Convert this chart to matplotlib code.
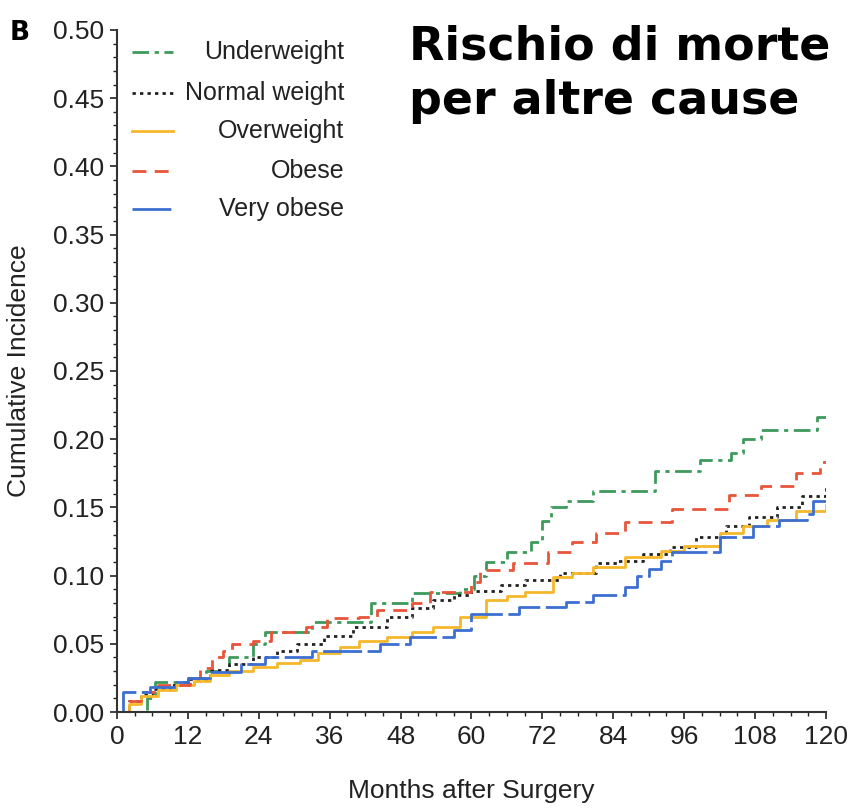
import matplotlib
matplotlib.use("Agg")
import matplotlib.pyplot as plt
from matplotlib.ticker import MultipleLocator

plt.rcParams['font.family'] = ['Liberation Sans', 'DejaVu Sans']

# step-function data (month of change, cumulative incidence after change)
uw_t = [0, 5, 6.5, 12, 15, 19, 23, 25, 33, 43, 50, 58, 60.5, 62.5, 66, 70, 72, 73.5, 76,
        80.5, 91, 98.6, 104, 106, 109, 118.5, 120]
uw_v = [0, 0.01, 0.022, 0.025, 0.03, 0.04, 0.05, 0.059, 0.066, 0.08, 0.087, 0.09, 0.10,
        0.11, 0.117, 0.125, 0.14, 0.15, 0.155, 0.162, 0.177, 0.185, 0.19, 0.20, 0.207,
        0.216, 0.216]

nw_t = [0, 2, 4, 6, 9, 12, 15.7, 19, 23, 27, 30.4, 35, 40, 45.7, 50, 53.5, 57, 60, 65, 69,
        75, 81, 84.6, 89, 93.6, 98, 103, 107, 111.7, 116, 120]
nw_v = [0, 0.008, 0.013, 0.017, 0.02, 0.024, 0.031, 0.035, 0.04, 0.045, 0.05, 0.056,
        0.062, 0.07, 0.076, 0.082, 0.086, 0.089, 0.093, 0.097, 0.102, 0.109, 0.111, 0.116,
        0.121, 0.128, 0.136, 0.143, 0.15, 0.158, 0.165]

ow_t = [0, 2, 4, 7, 10, 13, 15.7, 19, 23, 27, 31, 34, 37.7, 41, 45.7, 50, 53.5, 58, 62.5,
        66, 69, 73.8, 77, 80.5, 86, 92, 96, 102, 106, 110, 115, 120]
ow_v = [0, 0.006, 0.012, 0.016, 0.02, 0.023, 0.027, 0.03, 0.033, 0.036, 0.038, 0.043,
        0.048, 0.052, 0.055, 0.059, 0.062, 0.07, 0.082, 0.085, 0.088, 0.099, 0.102, 0.106,
        0.114, 0.118, 0.122, 0.131, 0.136, 0.141, 0.147, 0.152]

ob_t = [0, 2, 4, 7, 12.4, 14, 16, 18, 19.5, 23, 26, 32, 35.5, 41, 44, 50, 53, 60, 61.4,
        67, 73, 77, 81, 86, 94, 103.5, 109, 115, 119, 120]
ob_v = [0, 0.008, 0.015, 0.02, 0.025, 0.032, 0.04, 0.045, 0.05, 0.052, 0.059, 0.062,
        0.069, 0.07, 0.075, 0.08, 0.088, 0.095, 0.104, 0.109, 0.117, 0.125, 0.131, 0.139,
        0.149, 0.159, 0.166, 0.175, 0.183, 0.183]

vo_t = [0, 1, 5.6, 10, 12, 15.7, 21, 25, 33, 44.5, 49.6, 57, 60, 68, 76, 80.5, 86, 88, 90,
        92, 94, 102, 107.6, 112, 116.7, 117.8, 120]
vo_v = [0, 0.015, 0.018, 0.022, 0.025, 0.029, 0.035, 0.04, 0.045, 0.05, 0.055, 0.06,
        0.072, 0.077, 0.081, 0.086, 0.092, 0.1, 0.105, 0.111, 0.117, 0.128, 0.136, 0.141,
        0.145, 0.155, 0.155]

series = [
    ("Underweight", uw_t, uw_v, "#3d9a5c", (0, (6, 2, 1.5, 2))),
    ("Normal weight", nw_t, nw_v, "#222222", (0, (1.2, 1.5))),
    ("Overweight", ow_t, ow_v, "#f5b82a", "-"),
    ("Obese", ob_t, ob_v, "#e8553a", (0, (5, 3))),
    ("Very obese", vo_t, vo_v, "#3d6fd0", (0, (14, 2))),
]

fig = plt.figure(figsize=(8.52, 8.08), dpi=100)
ax = fig.add_axes([0.1373, 0.1188, 0.9695 - 0.1373, 0.9629 - 0.1188])

for name, t, v, c, ls in series:
    ax.step(t, v, where="post", color=c, linestyle=ls, lw=2.0)

ax.set_xlim(0, 120)
ax.set_ylim(0, 0.5)
ax.xaxis.set_major_locator(MultipleLocator(12))
ax.xaxis.set_minor_locator(MultipleLocator(3))
ax.yaxis.set_major_locator(MultipleLocator(0.05))
ax.yaxis.set_minor_locator(MultipleLocator(0.01))
ax.yaxis.set_major_formatter(matplotlib.ticker.FormatStrFormatter("%.2f"))
ax.tick_params(which="major", length=5, width=1.2, labelsize=19, colors="#222222", pad=4)
ax.tick_params(which="minor", length=3, width=1.0, colors="#222222")
for s in ("top", "right"):
    ax.spines[s].set_visible(False)
for s in ("left", "bottom"):
    ax.spines[s].set_color("#333333")
    ax.spines[s].set_linewidth(1.5)

ax.set_xlabel("Months after Surgery", fontsize=19, color="#222222", labelpad=22)
ax.set_ylabel("Cumulative Incidence", fontsize=19, color="#222222", labelpad=16)

# legend: line on the left, label right-aligned
row_y = [52, 93, 131, 171, 209]
for (name, t, v, c, ls), py in zip(series, row_y):
    yf = 1 - py / 808
    fig.add_artist(plt.Line2D([132 / 852, 173 / 852], [yf, yf], color=c, linestyle=ls, lw=2.0))
    fig.text(344 / 852, yf, name, ha="right", va="center", fontsize=18, color="#222222")

fig.text(10 / 852, 1 - 33 / 808, "B", fontsize=19, fontweight="bold", ha="left", va="center",
         family="DejaVu Sans")
fig.text(409 / 852, 1 - 24 / 808, "Rischio di morte\nper altre cause", fontsize=33,
         fontweight="bold", ha="left", va="top", family="DejaVu Sans", linespacing=1.3)

fig.savefig("out.png", dpi=100)
